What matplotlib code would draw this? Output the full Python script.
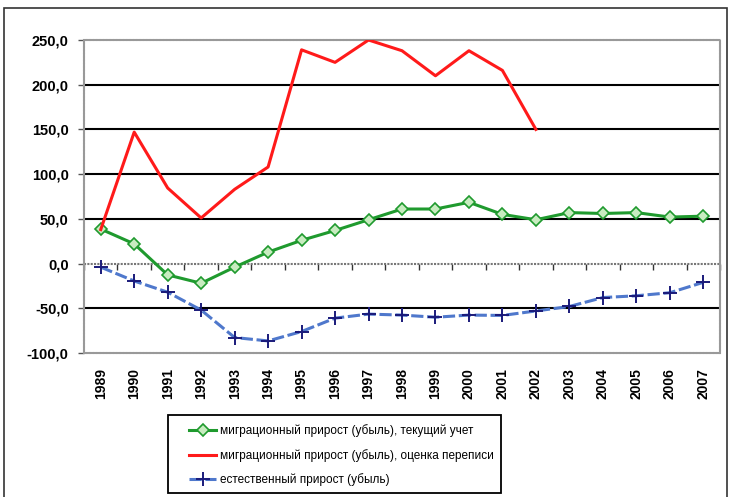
import matplotlib.pyplot as plt
import numpy as np
from matplotlib.patches import Rectangle

plt.rcParams['font.family'] = ['Liberation Sans', 'DejaVu Sans']

# Data
years = [str(y) for y in range(1989, 2008)]
migr_current = [38.6, 22.0, -12.7, -22.0, -4.0, 12.8, 26.0, 37.0, 49.0, 61.0,
                61.0, 68.5, 55.0, 49.0, 57.0, 56.0, 57.0, 52.0, 53.0]
migr_census = [38.0, 147.0, 84.5, 51.0, 83.0, 108.0, 239.0, 225.0, 250.0, 238.0,
               210.0, 238.0, 216.0, 150.0]
natural = [-4.0, -19.5, -32.0, -52.0, -82.7, -86.5, -76.0, -61.0, -56.5, -57.6,
           -60.0, -57.6, -58.0, -53.0, -48.0, -38.0, -36.0, -32.6, -21.0]
ytick_vals = [-100, -50, 0, 50, 100, 150, 200, 250]
ytick_labels = ['-100,0', '-50,0', '0,0', '50,0', '100,0', '150,0', '200,0', '250,0']
legend_labels = ['миграционный прирост (убыль), текущий учет',
                 'миграционный прирост (убыль), оценка переписи',
                 'естественный прирост (убыль)']

fig = plt.figure(figsize=(7.31, 4.97), dpi=100)
ax = fig.add_axes([84 / 731, 1 - 353 / 497, 636 / 731, 313 / 497])

# outer frame
fig.patches.append(Rectangle((4 / 731, -0.05), 723 / 731, 1.05 - 8 / 497,
                             transform=fig.transFigure, fill=False,
                             edgecolor='#333333', linewidth=1.2))

x = np.arange(len(years))

# grid lines
for v in [-50, 50, 100, 150, 200]:
    ax.axhline(v, color='black', linewidth=1.5, zorder=1)
ax.axhline(0, color='#777777', linewidth=1.5, linestyle=(0, (1, 0.6)), zorder=1)

l1, = ax.plot(x, migr_current, color='#1f9a2e', linewidth=2.2, marker='D',
              markersize=6, markerfacecolor='#c8ecc0', markeredgecolor='#1f9a2e',
              markeredgewidth=1.2, zorder=3)
l2, = ax.plot(x[:len(migr_census)], migr_census, color='#ff1a1a', linewidth=2.2, zorder=3)
l3, = ax.plot(x, natural, color='#4f78cc', linewidth=2.2, linestyle=(0, (4, 1.2)),
              marker='+', markersize=10, markeredgecolor='#1a1a7a',
              markeredgewidth=1.4, zorder=3)

ax.set_xlim(-0.5, len(years) - 0.5)
ax.set_ylim(-100, 250)
ax.set_yticks(ytick_vals)
ax.set_yticklabels(ytick_labels, fontsize=10.5, fontweight='bold')
ax.tick_params(axis='y', length=4, width=1, color='#555555', pad=7)

ax.set_xticks(x)
ax.set_xticklabels(years, rotation=90, fontsize=10, fontweight='bold')
ax.tick_params(axis='x', length=0, pad=11)

for s in ['left', 'right', 'top', 'bottom']:
    ax.spines[s].set_color('#999999')
    ax.spines[s].set_linewidth(1.5)
    ax.spines[s].set_linestyle((0, (1, 0.6)))

# category boundary ticks on the zero line
sec = ax.secondary_xaxis(100 / 350)
sec.set_xticks(np.arange(-0.5, len(years), 1))
sec.set_xticklabels([])
sec.tick_params(axis='x', length=4, width=1, color='#333333')
sec.spines['bottom'].set_visible(False)

# legend box and entries
fig.patches.append(Rectangle((168 / 731, 4 / 497), 333 / 731, 78 / 497,
                             transform=fig.transFigure, fill=False,
                             edgecolor='black', linewidth=1.3))
leg = fig.legend([l1, l2, l3], legend_labels, loc='upper left',
                 bbox_to_anchor=(189 / 731, 1 - 424 / 497),
                 fontsize=8.5, frameon=False, handlelength=2.3,
                 handletextpad=0.3, labelspacing=1.0,
                 borderpad=0, borderaxespad=0)

fig.savefig('out.png', dpi=100)
